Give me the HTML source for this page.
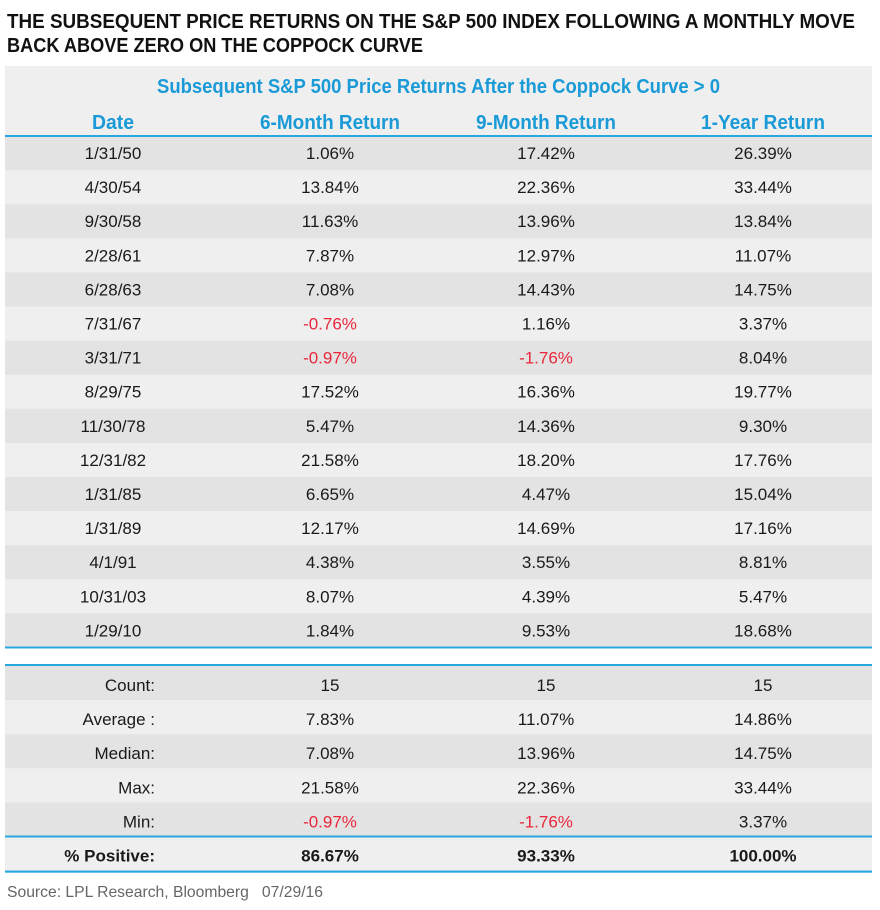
<!DOCTYPE html>
<html><head><meta charset="utf-8"><style>
html,body{margin:0;padding:0;background:#fff;}
svg{display:block;font-family:"Liberation Sans",sans-serif;}
</style></head><body>
<svg id="tbl" width="880" height="910" viewBox="0 0 880 910">
<text x="7" y="28" font-size="20" font-weight="bold" fill="#111" textLength="848" lengthAdjust="spacingAndGlyphs">THE SUBSEQUENT PRICE RETURNS ON THE S&amp;P 500 INDEX FOLLOWING A MONTHLY MOVE</text>
<text x="7" y="52" font-size="20" font-weight="bold" fill="#111" textLength="416" lengthAdjust="spacingAndGlyphs">BACK ABOVE ZERO ON THE COPPOCK CURVE</text>
<rect x="5" y="66" width="867" height="70" fill="#efefef"/>
<text x="157" y="93" font-size="20" font-weight="bold" fill="#1a9ad6" textLength="563" lengthAdjust="spacingAndGlyphs">Subsequent S&amp;P 500 Price Returns After the Coppock Curve &gt; 0</text>
<g id="hdr"></g>
<g id="body"></g>
<text x="7" y="897" font-size="16" fill="#666" textLength="316" lengthAdjust="spacingAndGlyphs">Source: LPL Research, Bloomberg&#160;&#160;&#160;07/29/16</text>
</svg>
<script>
const headers = ["Date","6-Month Return","9-Month Return","1-Year Return"];
const dates = ["1/31/50","4/30/54","9/30/58","2/28/61","6/28/63","7/31/67","3/31/71","8/29/75","11/30/78","12/31/82","1/31/85","1/31/89","4/1/91","10/31/03","1/29/10"];
const ret6 = [1.06,13.84,11.63,7.87,7.08,-0.76,-0.97,17.52,5.47,21.58,6.65,12.17,4.38,8.07,1.84];
const ret9 = [17.42,22.36,13.96,12.97,14.43,1.16,-1.76,16.36,14.36,18.20,4.47,14.69,3.55,4.39,9.53];
const ret12 = [26.39,33.44,13.84,11.07,14.75,3.37,8.04,19.77,9.30,17.76,15.04,17.16,8.81,5.47,18.68];
const statLabels = ["Count:","Average :","Median:","Max:","Min:","% Positive:"];
const stat6 = ["15","7.83%","7.08%","21.58%","-0.97%","86.67%"];
const stat9 = ["15","11.07%","13.96%","22.36%","-1.76%","93.33%"];
const stat12 = ["15","14.86%","14.75%","33.44%","3.37%","100.00%"];

const NS="http://www.w3.org/2000/svg";
const colX=[113,330,546,763];
const hw=[42,140,140,124];
function mk(tag,attrs,parent){const e=document.createElementNS(NS,tag);for(const k in attrs)e.setAttribute(k,attrs[k]);parent.appendChild(e);return e;}
const hdrG=document.getElementById('hdr'), bodyG=document.getElementById('body');
headers.forEach((h,i)=>{
  const t=mk('text',{x:colX[i]-hw[i]/2,y:129,'font-size':20,'font-weight':'bold',fill:'#1a9ad6',textLength:hw[i],lengthAdjust:'spacingAndGlyphs'},hdrG);
  
  
  t.textContent=h;
});
function rule(y,name){const l=mk('rect',{x:5,y:y,width:867,height:2,fill:'#29a8e0'},bodyG);
  
  }
const rowH=34.1, rowTop=136;
dates.forEach((d,r)=>{
  const y=rowTop+r*rowH;
  const bg=mk('rect',{x:5,y:y,width:867,height:rowH+0.5,fill:r%2?'#efefef':'#e3e3e3'},bodyG);
  
  
  const vals=[d,ret6[r].toFixed(2)+'%',ret9[r].toFixed(2)+'%',ret12[r].toFixed(2)+'%'];
  const nums=[null,ret6[r],ret9[r],ret12[r]];
  vals.forEach((v,c)=>{
    const t=mk('text',{x:colX[c],y:y+23,'text-anchor':'middle','font-size':17,fill:(nums[c]!==null&&nums[c]<0)?'#e8263c':'#1a1a1a'},bodyG);
    
    
    t.textContent=v;
  });
});
rule(135,'header-rule');
const endY=rowTop+dates.length*rowH;
rule(endY-1,'body-bottom-rule');
const sTop=665;
rule(sTop-1,'stats-top-rule');
statLabels.forEach((s,r)=>{
  const y=sTop+1+r*rowH;
  const bg=mk('rect',{x:5,y:y,width:867,height:rowH+0.5,fill:r%2?'#efefef':'#e3e3e3'},bodyG);
  
  
  const bold=r===statLabels.length-1;
  const lt=mk('text',{x:155,y:y+25,'text-anchor':'end','font-size':17,'font-weight':bold?'bold':'normal',fill:'#1a1a1a'},bodyG);
  
  
  lt.textContent=s;
  [stat6[r],stat9[r],stat12[r]].forEach((v,c)=>{
    const t=mk('text',{x:colX[c+1],y:y+25,'text-anchor':'middle','font-size':17,'font-weight':bold?'bold':'normal',fill:v.startsWith('-')?'#e8263c':'#1a1a1a'},bodyG);
    
    
    t.textContent=v;
  });
  if(bold){rule(y-1,'positive-top-rule');rule(y+rowH,'table-bottom-rule');}
});
rule(sTop+statLabels.length*rowH+1,'table-end-rule');
</script>
</body></html>
